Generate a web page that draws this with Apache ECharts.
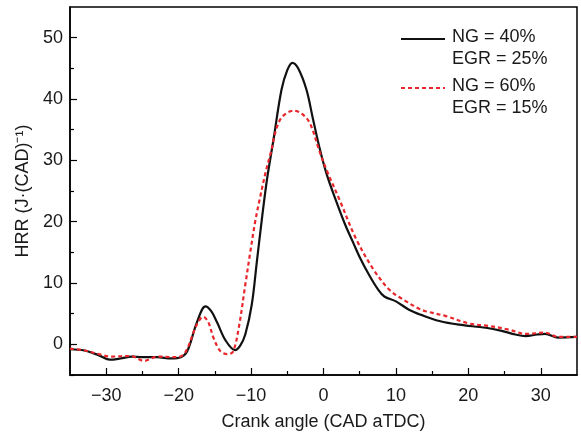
<!DOCTYPE html>
<html>
<head>
<meta charset="utf-8">
<script src="https://cdn.jsdelivr.net/npm/echarts@6/dist/echarts.min.js"></script>
<style>html,body{margin:0;padding:0;background:#fff}#c{width:581px;height:436px}</style>
</head>
<body>
<div id="c"></div>
<script>
// Crank angle (CAD aTDC) and HRR values
const angleNG40 = [-35,-33,-31,-29.5,-28,-26.5,-25,-23,-21,-19.7,-18.8,-17.5,-16.3,-15.5,-14.7,-13.5,-12.2,-11.5,-10.8,-9.9,-9.2,-8.5,-7.8,-6.9,-5.8,-5,-4.3,-3.5,-2.35,-1.5,-0.5,0.5,1.8,3,4.05,5,6.3,7.5,8.4,10,11.8,13.5,16,18.7,22.4,24.6,26.5,27.9,29.5,30.6,32.4,35];
const hrrNG40   = [-0.8,-1.0,-1.8,-2.5,-2.3,-2.0,-2.1,-2.1,-2.3,-2.1,-1.1,3.5,6.2,5.4,3.6,0.6,-0.95,-0.2,1.6,6.5,13.5,20.5,26.9,33.4,41.5,44.7,45.9,45.0,41.5,37.0,31.8,27.5,23.2,19.5,16.7,14.2,11.3,9.0,7.8,7.0,5.65,4.8,3.8,3.2,2.7,2.2,1.6,1.35,1.6,1.7,1.1,1.2];
const angleNG60 = [-35,-33,-31,-29.4,-26.6,-24.8,-22.9,-20.2,-19.1,-17.5,-16.6,-15.9,-15.2,-14.25,-13.3,-12.5,-11.7,-10.8,-10.1,-9.45,-8.8,-8.0,-7.4,-6.0,-4.1,-3,-1.9,-0.5,0.4,2.2,4.5,6.8,9.1,11.4,13.2,14.1,16.9,20.1,22.8,25.6,27.9,30.6,32.4,35];
const hrrNG60   = [-0.7,-1.0,-1.6,-2.0,-1.9,-2.7,-2.0,-2.1,-1.35,3.2,4.5,3.6,1.1,-1.1,-1.6,-1.2,2.7,9.7,15.1,19.9,23.7,28,30.7,36.6,38.1,37.6,36.1,31.3,28.5,23.6,17.2,12.4,8.9,7.0,5.8,5.4,4.6,3.4,3.0,2.4,1.7,1.9,1.2,1.2];
const xMajorTicks = [-30,-20,-10,0,10,20,30];
const xMinorTicks = [-25,-15,-5,5,15,25];
const yMajorTicks = [0,10,20,30,40,50];
const yMinorTicks = [-5,5,15,25,35,45];
const legendLines = [['NG = 40%','EGR = 25%'],['NG = 60%','EGR = 15%']];

const FONT = '"Liberation Sans", Arial, sans-serif';
const TXT = '#1a1a1a';
const RED = '#e8262b';
const zip = (a,b) => a.map((v,i)=>[v,b[i]]);
const minus = v => String(v).replace('-', '\u2212');

const grid = {left:70, right:4, top:7, bottom:58, show:true, borderColor:'#000', borderWidth:1.5, containLabel:false};
const baseX = {type:'value', min:-35, max:35, splitLine:{show:false}};
const baseY = {type:'value', min:-5, max:55, splitLine:{show:false}};

const chart = echarts.init(document.getElementById('c'), null, {renderer:'canvas'});
chart.setOption({
  backgroundColor:'#fff',
  animation:false,
  grid: grid,
  xAxis: [
    Object.assign({}, baseX, {
      position:'bottom',
      axisLine:{show:true, onZero:false, lineStyle:{color:'#000', width:1.5}},
      axisTick:{show:true, inside:true, length:7, customValues:xMajorTicks, lineStyle:{color:'#000', width:1.2}},
      axisLabel:{customValues:xMajorTicks, formatter:minus, color:TXT, fontSize:18, fontFamily:FONT, margin:12},
      name:'Crank angle (CAD aTDC)', nameLocation:'middle', nameGap:38,
      nameTextStyle:{color:TXT, fontSize:18, fontFamily:FONT}
    }),
    Object.assign({}, baseX, {
      position:'bottom',
      axisLine:{show:false, onZero:false},
      axisTick:{show:true, inside:true, length:4, customValues:xMinorTicks, lineStyle:{color:'#000', width:1.2}},
      axisLabel:{show:false, customValues:xMinorTicks}
    })
  ],
  yAxis: [
    Object.assign({}, baseY, {
      position:'left',
      axisLine:{show:true, onZero:false, lineStyle:{color:'#000', width:1.5}},
      axisTick:{show:true, inside:true, length:7, customValues:yMajorTicks, lineStyle:{color:'#000', width:1.2}},
      axisLabel:{customValues:yMajorTicks, color:TXT, fontSize:18, fontFamily:FONT, margin:7},
      name:'HRR (J\u00B7(CAD)\u207B\u00B9)', nameLocation:'middle', nameGap:33, nameRotate:90,
      nameTextStyle:{color:TXT, fontSize:18, fontFamily:FONT}
    }),
    Object.assign({}, baseY, {
      position:'left',
      axisLine:{show:false, onZero:false},
      axisTick:{show:true, inside:true, length:4, customValues:yMinorTicks, lineStyle:{color:'#000', width:1.2}},
      axisLabel:{show:false, customValues:yMinorTicks}
    })
  ],
  series: [
    {type:'line', name:'NG40', data:zip(angleNG40,hrrNG40), smooth:0.35, symbol:'none',
     lineStyle:{color:'#111', width:2.2}, z:3},
    {type:'line', name:'NG60', data:zip(angleNG60,hrrNG60), smooth:0.35, symbol:'none',
     lineStyle:{color:RED, width:2.2, type:[4,3]}, z:4}
  ],
  graphic: [
    {type:'line', shape:{x1:401,y1:39,x2:445,y2:39}, style:{stroke:'#111', lineWidth:2.2}},
    {type:'text', left:452, top:28, style:{text:legendLines[0][0], font:'18px '+FONT, fill:TXT}},
    {type:'text', left:452, top:50, style:{text:legendLines[0][1], font:'18px '+FONT, fill:TXT}},
    {type:'line', shape:{x1:401,y1:88,x2:445,y2:88}, style:{stroke:RED, lineWidth:2.2, lineDash:[4,3]}},
    {type:'text', left:452, top:77, style:{text:legendLines[1][0], font:'18px '+FONT, fill:TXT}},
    {type:'text', left:452, top:99, style:{text:legendLines[1][1], font:'18px '+FONT, fill:TXT}}
  ]
});
</script>
</body>
</html>
